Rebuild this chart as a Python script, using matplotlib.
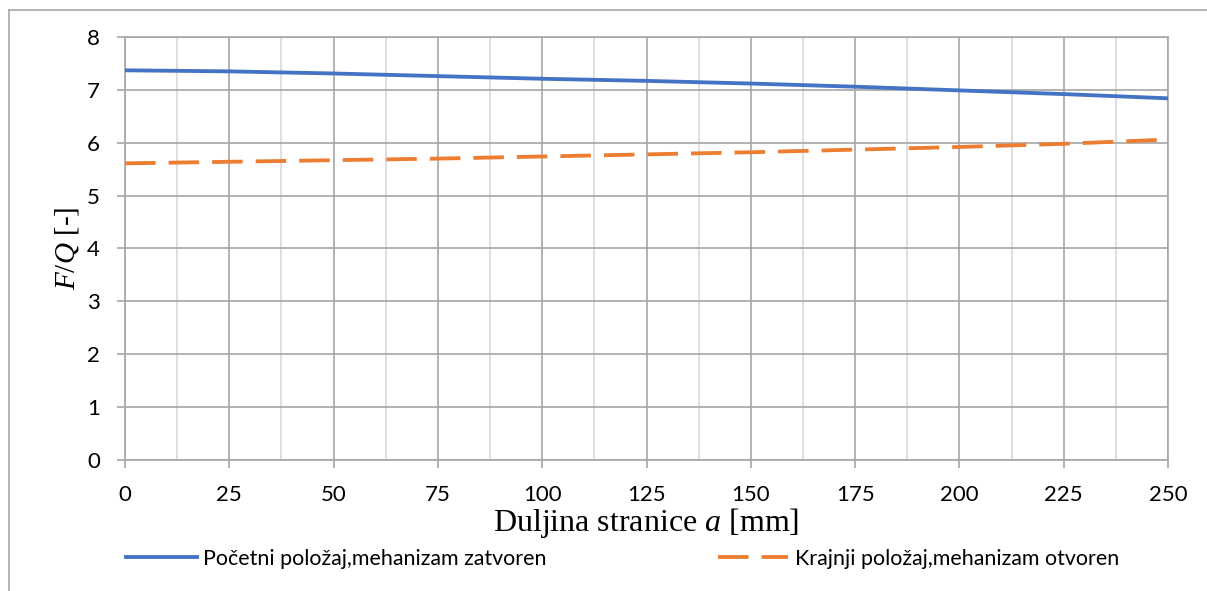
import matplotlib
matplotlib.use("Agg")
import matplotlib.pyplot as plt
from matplotlib.lines import Line2D

# values
a_mm = [0, 25, 50, 75, 100, 125, 150, 175, 200, 225, 250]
fq_closed = [7.37, 7.35, 7.31, 7.26, 7.21, 7.17, 7.12, 7.06, 6.99, 6.92, 6.84]
fq_open = [5.61, 5.64, 5.67, 5.70, 5.74, 5.78, 5.82, 5.87, 5.92, 5.98, 6.06]
label_closed = "Početni položaj,mehanizam zatvoren"
label_open = "Krajnji položaj,mehanizam otvoren"

plt.rcParams["mathtext.fontset"] = "custom"
plt.rcParams["mathtext.rm"] = "Liberation Serif"
plt.rcParams["mathtext.it"] = "Liberation Serif:italic"

fig = plt.figure(figsize=(12.07, 5.91), dpi=100)
ax = fig.add_axes([0.1036, 0.2217, 0.8641, 0.7157])

grid_dark = "#a6a6a6"
grid_light = "#d9d9d9"

ax.plot(a_mm, fq_closed, color="#4472C4", lw=2.75, label=label_closed, zorder=3)
ax.plot(a_mm, fq_open, color="#ED7D31", lw=2.75, dashes=(8, 3.4), label=label_open, zorder=3)

ax.set_xlim(0, 250)
ax.set_ylim(0, 8)
ax.set_xticks(range(0, 251, 25))
ax.set_xticks([12.5 + 25 * i for i in range(10)], minor=True)
ax.set_yticks(range(0, 9))

ax.grid(which="major", color=grid_dark, lw=1.2)
ax.grid(which="minor", axis="x", color=grid_light, lw=1.2)
ax.set_axisbelow(True)
for s in ax.spines.values():
    s.set_color(grid_dark)
    s.set_linewidth(1.2)

ax.tick_params(which="major", length=6, width=1.2, color=grid_dark,
               labelsize=16, pad=12)
ax.tick_params(which="minor", length=0)
for lab in ax.get_xticklabels() + ax.get_yticklabels():
    lab.set_fontfamily("Lato")

ax.set_xlabel(r"Duljina stranice $a$ [mm]", fontfamily="Liberation Serif",
              fontsize=23, labelpad=1)
ax.set_ylabel(r"$F/Q$ [-]", fontfamily="Liberation Serif", fontsize=21, labelpad=4)

ax.legend(loc="upper center", bbox_to_anchor=(0.477, -0.19), ncol=2, frameon=False,
          prop={"family": "Lato", "size": 15.4}, handlelength=3.3, columnspacing=8.0,
          handletextpad=0.3, borderaxespad=0)

# chart area border (only top and left visible in the reference)
fig.add_artist(Line2D([9 / 1207, 1], [1 - 10 / 591, 1 - 10 / 591], color="#a6a6a6", lw=1.2))
fig.add_artist(Line2D([9 / 1207, 9 / 1207], [0, 1 - 10 / 591], color="#a6a6a6", lw=1.2))

fig.savefig("out.png", dpi=100)
